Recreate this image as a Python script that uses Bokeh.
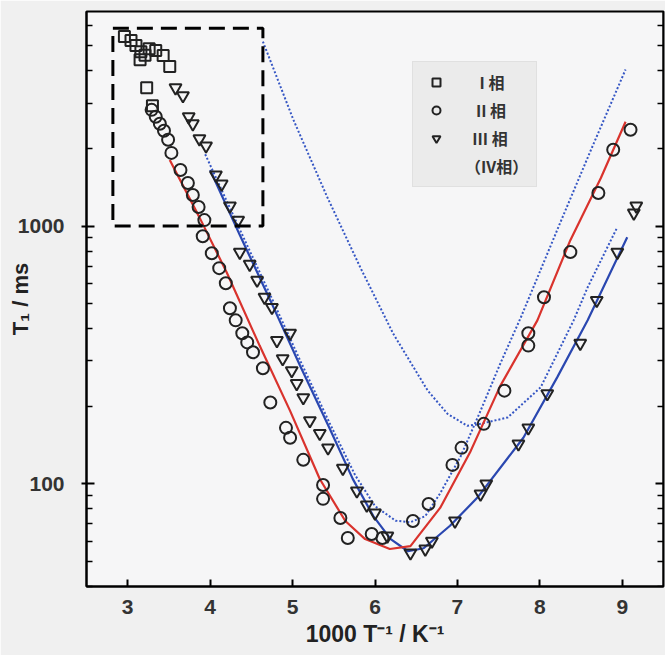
from bokeh.plotting import figure
from bokeh.models import FixedTicker, LogAxis, Legend, LegendItem, BoxAnnotation, BasicTickFormatter
from bokeh.embed import file_html
from bokeh.resources import INLINE

# ---- data ----
# Phase I (squares)
sq_x = [2.96, 3.04, 3.10, 3.16, 3.15, 3.21, 3.26, 3.34, 3.43, 3.51, 3.23, 3.30]
sq_y = [5440, 5250, 5020, 4750, 4420, 4600, 4880, 4800, 4590, 4160, 3440, 2930]

# Phase II (circles)
ci_x = [3.29, 3.34, 3.39, 3.44, 3.49, 3.53, 3.64, 3.73, 3.79, 3.86, 3.93, 3.91, 4.02, 4.11,
        4.19, 4.24, 4.31, 4.39, 4.45, 4.52, 4.64, 4.73, 4.92, 4.97, 5.13, 5.37, 5.37, 5.58,
        5.67, 5.96, 6.09, 6.46, 6.65, 6.94, 7.05, 7.32, 7.57, 7.86, 7.86, 8.05, 8.37, 8.71,
        8.89, 9.10]
ci_y = [2825, 2655, 2495, 2345, 2163, 1923, 1651, 1469, 1320, 1186, 1055, 914, 785, 687,
        600, 480, 431, 384, 354, 324, 281, 207, 165, 151, 124, 99, 87.5, 73.8,
        61.7, 63.9, 61.7, 71.8, 83.6, 118.5, 138, 171, 230, 344, 384, 530, 793, 1344,
        1977, 2366]

# Phase III (inverted triangles)
tr_x = [3.58, 3.67, 3.74, 3.79, 3.87, 3.95, 4.07, 4.14, 4.24, 4.34, 4.36, 4.48, 4.57, 4.66,
        4.75, 4.81, 4.97, 4.88, 4.99, 5.05, 5.13, 5.21, 5.33, 5.43, 5.61, 5.78, 5.90, 6.00,
        6.15, 6.43, 6.61, 6.69, 6.97, 7.28, 7.35, 7.74, 7.86, 8.09, 8.49, 8.69, 8.94, 9.14,
        9.17]
tr_y = [3443, 3206, 2656, 2495, 2183, 2048, 1578, 1456, 1197, 1055, 792, 711, 617, 530,
        484, 360, 384, 306, 275, 245, 216, 176, 157, 138, 115, 94, 82.8, 77.1,
        62.8, 54, 55.9, 60, 71.8, 91.4, 100, 143, 165, 224, 351, 515, 792, 1124,
        1197]

# fitted curves
red_x = [3.51, 3.875, 4.20, 4.60, 4.97, 5.33, 5.64, 5.88, 6.18, 6.43, 6.79, 7.16, 7.52, 7.97, 8.37, 8.74, 9.04]
red_y = [1806, 1074, 662, 344, 192, 104.5, 71.8, 61.1, 55.9, 57.4, 80.7, 134, 240, 431, 882, 1537, 2540]

bs_x = [4.00, 4.36, 4.73, 5.09, 5.45, 5.73, 5.98, 6.19, 6.40, 6.59, 6.91, 7.24, 7.80, 8.21, 8.58, 9.06]
bs_y = [1651, 923, 515, 288, 164, 104.6, 75, 61.1, 54.8, 56.3, 68.8, 88.3, 151, 259, 431, 906]

da_x = [3.94, 4.36, 4.73, 5.09, 5.45, 5.76, 6.00, 6.25, 6.43, 6.61, 6.79, 7.04, 7.28, 7.52, 7.77, 8.25, 8.62, 9.04]
da_y = [1900, 970, 540, 302, 172, 108, 82, 72, 71, 75, 91.9, 128, 192, 293, 443, 1036, 1976, 4050]

db_x = [4.64, 5.01, 5.42, 5.82, 6.22, 6.64, 6.88, 7.12, 7.28, 7.61, 8.01, 8.41, 8.58, 8.94]
db_y = [5200, 2585, 1297, 693, 383, 230, 187, 168, 171, 181, 237, 431, 579, 991]

# dashed box region
box_x = [2.82, 4.64]
box_y = [1000, 5850]

# ticks and labels
x_ticks = [3, 4, 5, 6, 7, 8, 9]
y_major = [100, 1000]
y_minor = [40, 50, 60, 70, 80, 90, 200, 300, 400, 500, 600, 700, 800, 900,
           2000, 3000, 4000, 5000, 6000]
NB = "\u00a0"
legend_labels = [NB * 4 + "I 相", NB * 3 + "II 相", NB * 2 + "III 相", "（IV相）"]

X_RANGE = (2.5, 9.5)
FONT = "Liberation Sans"

p = figure(width=665, height=655, x_range=X_RANGE, y_range=(40, 6800),
           y_axis_type="log", output_backend="svg", toolbar_location=None,
           min_border_left=86, min_border_top=11, min_border_right=2, min_border_bottom=69,
           background_fill_color="#f6f6f7", border_fill_color="#f0f0f0")
p.grid.visible = False
p.outline_line_color = "black"
p.outline_line_width = 2

# x axis
xa = p.xaxis[0]
xa.ticker = FixedTicker(ticks=x_ticks)
xa.minor_tick_line_color = None
xa.major_tick_in = 7
xa.major_tick_out = 0
xa.major_tick_line_width = 2
xa.axis_line_width = 2
xa.axis_label = "1000 T⁻¹ / K⁻¹"
xa.axis_label_text_font = FONT
xa.axis_label_text_font_style = "bold"
xa.axis_label_text_font_size = "23px"
xa.axis_label_text_color = "#222222"
xa.axis_label_standoff = 4
xa.major_label_text_font = FONT
xa.major_label_text_font_style = "bold"
xa.major_label_text_font_size = "21px"
xa.major_label_text_color = "#333333"
xa.major_label_standoff = 13

# y axis
ya = p.yaxis[0]
ya.ticker = FixedTicker(ticks=y_major, minor_ticks=y_minor)
ya.formatter = BasicTickFormatter(use_scientific=False)
ya.major_tick_in = 8
ya.major_tick_out = 5
ya.minor_tick_in = 6
ya.minor_tick_out = 0
ya.major_tick_line_width = 2
ya.minor_tick_line_width = 1.5
ya.axis_line_width = 2
ya.axis_label = "T₁ / ms"
ya.axis_label_text_font = FONT
ya.axis_label_text_font_style = "bold"
ya.axis_label_text_font_size = "22px"
ya.axis_label_text_color = "#222222"
ya.axis_label_standoff = -18
ya.major_label_text_font = FONT
ya.major_label_text_font_style = "bold"
ya.major_label_text_font_size = "21px"
ya.major_label_text_color = "#333333"
ya.major_label_standoff = 17

# right axis (ticks only, labels hidden, pinned to the right edge of the frame)
ra = LogAxis(ticker=FixedTicker(ticks=y_major, minor_ticks=y_minor),
             fixed_location=X_RANGE[1],
             major_label_overrides={100: " ", 1000: " "},
             major_label_text_font_size="1px", major_label_text_color=None,
             major_label_standoff=0,
             major_tick_in=8, major_tick_out=0, minor_tick_in=6, minor_tick_out=0,
             major_tick_line_width=2, minor_tick_line_width=1.5, axis_line_width=2)
p.add_layout(ra, "right")

# dashed box
p.add_layout(BoxAnnotation(left=box_x[0], right=box_x[1], bottom=box_y[0], top=box_y[1],
                           fill_color=None, fill_alpha=0, line_color="black", line_alpha=1,
                           line_width=3, line_dash="16 8"))

# curves
p.line(db_x, db_y, line_color="#3556c4", line_width=2, line_dash="2 2")
p.line(da_x, da_y, line_color="#3556c4", line_width=2, line_dash="2 2")
p.line(bs_x, bs_y, line_color="#2a47b0", line_width=2.2)
p.line(red_x, red_y, line_color="#d9332d", line_width=2.2)

# markers
mk = dict(fill_color=None, line_color="#222222", line_width=2)
r_sq = p.scatter(sq_x, sq_y, marker="square", size=11, **mk)
r_ci = p.scatter(ci_x, ci_y, marker="circle", size=12, **mk)
r_tr = p.scatter(tr_x, tr_y, marker="inverted_triangle", size=12, **mk)
# invisible renderer used only for the fourth (text-only) legend line
r_blank = p.scatter(sq_x, sq_y, marker="square", size=1, line_alpha=0, fill_alpha=0)

legend = Legend(items=[LegendItem(label=legend_labels[0], renderers=[r_sq]),
                       LegendItem(label=legend_labels[1], renderers=[r_ci]),
                       LegendItem(label=legend_labels[2], renderers=[r_tr]),
                       LegendItem(label=legend_labels[3], renderers=[r_blank])],
                location=(326, 399),
                background_fill_color="#ebebeb", background_fill_alpha=1,
                border_line_color="#d6d6d6", border_line_width=1,
                label_text_font="Noto Sans CJK JP", label_text_font_style="bold",
                label_text_font_size="16px", label_text_color="#333333",
                glyph_width=30, glyph_height=20, label_standoff=14,
                spacing=4, padding=8, margin=0, label_height=20)
p.add_layout(legend)

open("out.html", "w").write(file_html(p, INLINE))
